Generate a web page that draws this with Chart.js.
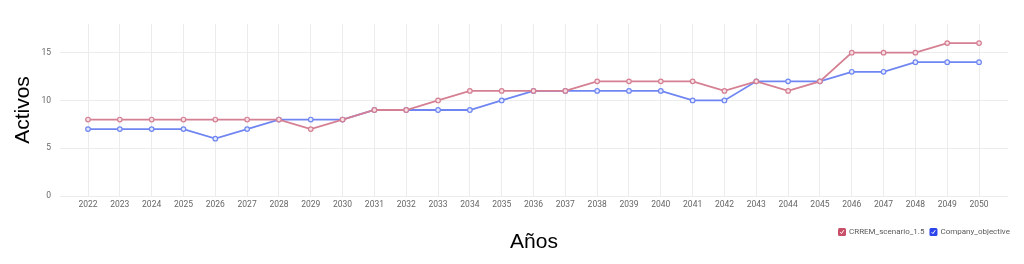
<!DOCTYPE html>
<html><head><meta charset="utf-8">
<script src="https://cdn.jsdelivr.net/npm/chart.js@4"></script>
<style>html,body{margin:0;padding:0;background:#fff;}#wrap{width:1024px;height:264px;}</style>
</head><body><div id="wrap"><canvas id="c" width="1024" height="264"></canvas></div>
<script>
const years = [2022,2023,2024,2025,2026,2027,2028,2029,2030,2031,2032,2033,2034,2035,2036,2037,2038,2039,2040,2041,2042,2043,2044,2045,2046,2047,2048,2049,2050];
const crrem = [8,8,8,8,8,8,8,7,8,9,9,10,11,11,11,11,12,12,12,12,11,12,11,12,15,15,15,16,16];
const company = [7,7,7,7,6,7,8,8,8,9,9,9,9,10,11,11,11,11,11,10,10,12,12,12,13,13,14,14,14];
const yTicks = [0,5,10,15];
const seriesNames = ['CRREM_scenario_1.5','Company_objective'];
const lineColors = ['#d57f92','#6f86f2'];
const boxColors = ['#c94f69','#2b45ea'];

const toPts = arr => arr.map((v,i)=>({x:years[i],y:v}));

const legendPlugin = {
  id:'customLegend',
  afterDraw(chart){
    const ctx = chart.ctx;
    ctx.save();
    ctx.font = '8px Roboto, "DejaVu Sans", sans-serif';
    ctx.textBaseline = 'middle';
    const y = 232;
    let x = 838;
    seriesNames.forEach((name,i)=>{
      const s = 8;
      ctx.fillStyle = boxColors[i];
      ctx.beginPath();
      if (ctx.roundRect) ctx.roundRect(x, y-s/2, s, s, 1.5); else ctx.rect(x,y-s/2,s,s);
      ctx.fill();
      ctx.strokeStyle = '#fff'; ctx.lineWidth = 1;
      ctx.beginPath();
      ctx.moveTo(x+2.2, y+0.2); ctx.lineTo(x+3.5, y+1.6); ctx.lineTo(x+5.8, y-1.8);
      ctx.stroke();
      ctx.fillStyle = '#5a5a5a';
      ctx.fillText(name, x+s+3, y);
      x += s + 3 + ctx.measureText(name).width + 5;
    });
    ctx.restore();
  }
};

new Chart(document.getElementById('c'), {
  type:'line',
  data:{
    datasets:[
      {label:seriesNames[0], data:toPts(crrem), borderColor:lineColors[0], backgroundColor:'#f3d7dd', borderWidth:1.8, pointRadius:2.3, pointBorderWidth:1.2, pointBackgroundColor:'#f6e0e5', tension:0},
      {label:seriesNames[1], data:toPts(company), borderColor:lineColors[1], backgroundColor:'#dde3fd', borderWidth:1.8, pointRadius:2.3, pointBorderWidth:1.2, pointBackgroundColor:'#e3e8fd', tension:0}
    ]
  },
  options:{
    responsive:false, animation:false,
    layout:{padding:{top:24,right:16,left:0,bottom:0}},
    plugins:{legend:{display:false}, tooltip:{enabled:false}},
    scales:{
      x:{
        type:'linear', min:2021.12, max:2050.91,
        afterBuildTicks(scale){ scale.ticks = years.map(v=>({value:v})); },
        afterFit(scale){ scale.height = 68; },
        grid:{color:'#ececec', drawTicks:false, lineWidth:1},
        border:{display:false},
        ticks:{padding:4, color:'#666', font:{size:8.5, family:'Roboto, "DejaVu Sans", sans-serif'}, maxRotation:0, autoSkip:false, callback:v=>String(v)},
        title:{display:true, text:'Años', color:'#000', font:{size:21, family:'"Liberation Sans", Arial, sans-serif'}, padding:{top:4,bottom:9}}
      },
      y:{
        min:0, max:18,
        afterBuildTicks(scale){ scale.ticks = yTicks.map(v=>({value:v})); },
        afterFit(scale){ scale.width = 60; },
        grid:{color:'#ececec', drawTicks:false, lineWidth:1},
        border:{display:false},
        ticks:{padding:9, color:'#666', font:{size:8.5, family:'Roboto, "DejaVu Sans", sans-serif'}},
        title:{display:true, text:'Activos', color:'#000', font:{size:21, family:'"Liberation Sans", Arial, sans-serif'}, padding:{top:11,bottom:0}}
      }
    }
  },
  plugins:[legendPlugin]
});
</script></body></html>
